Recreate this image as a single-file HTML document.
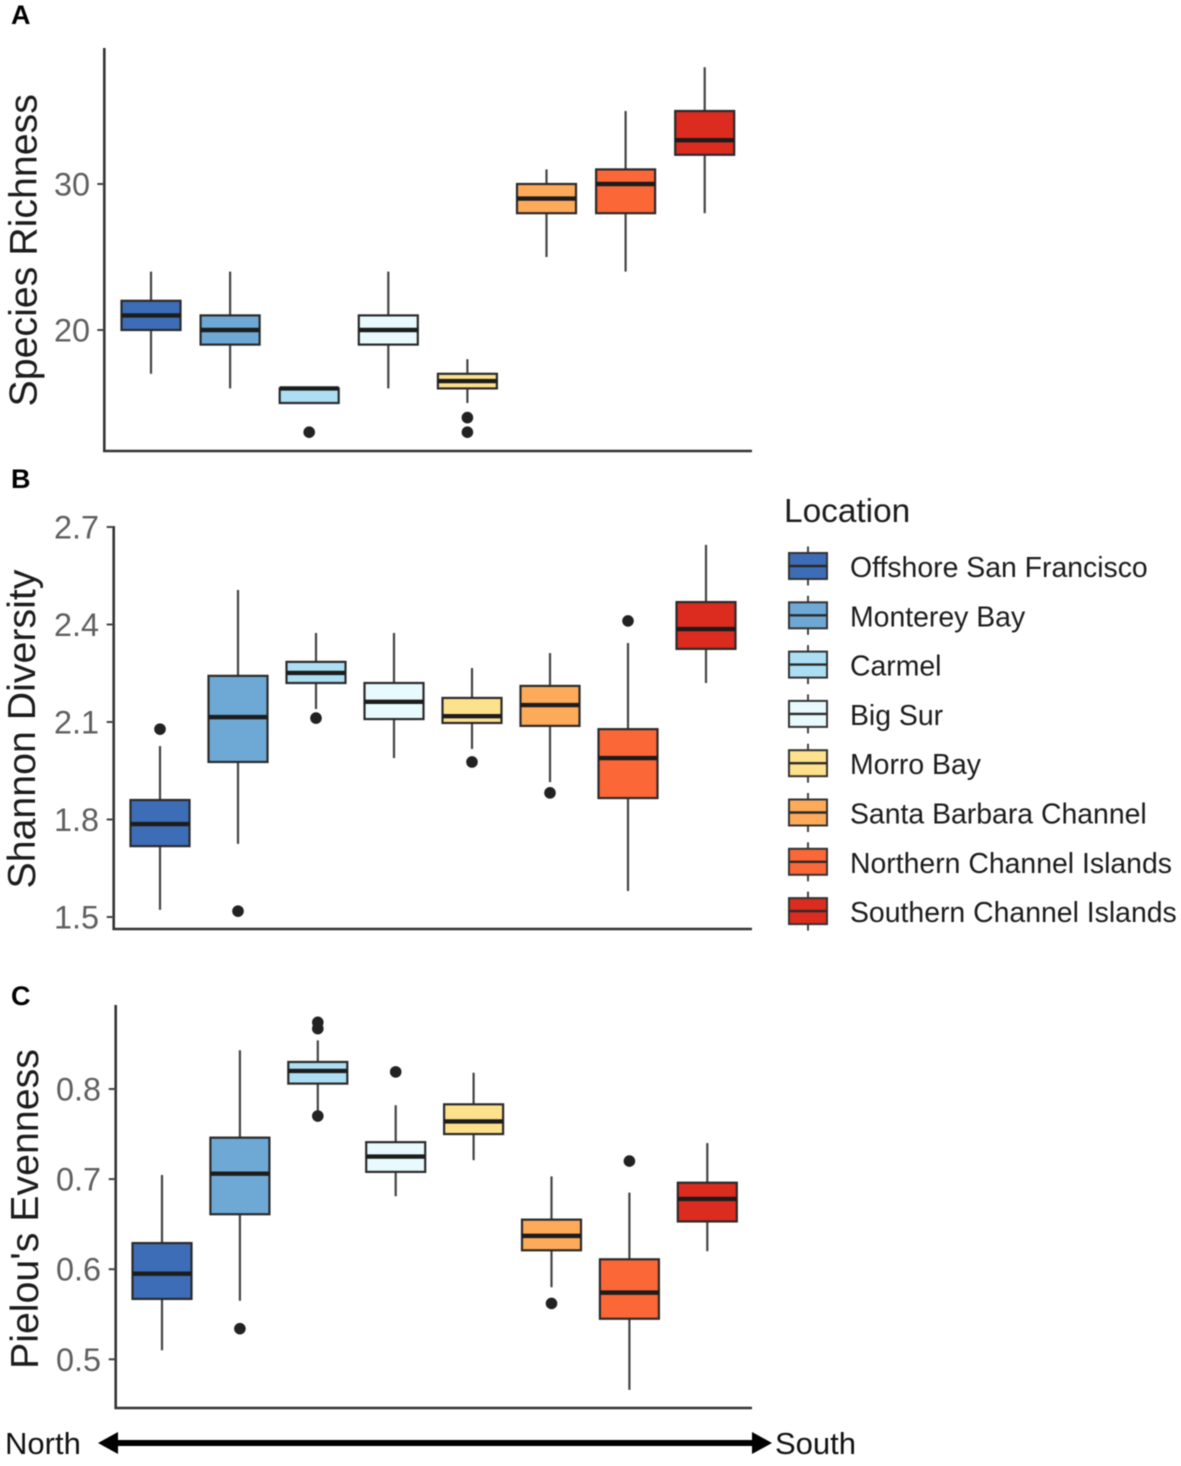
<!DOCTYPE html>
<html lang="en">
<head>
<meta charset="utf-8">
<title>Species richness, Shannon diversity and Pielou's evenness by location</title>
<style>
  html, body { margin: 0; padding: 0; background: #fff; }
  body { width: 1181px; height: 1466px; overflow: hidden; }
  svg { display: block; filter: blur(0.45px); font-family: "Liberation Sans", sans-serif; }
  .title { font-size: 39.3px; fill: #1c1c1c; }
  .tick-label { font-size: 32.4px; fill: #5f5f5f; }
  .panel-tag { font-size: 27px; font-weight: bold; fill: #000; }
  .legend-title { font-size: 33.4px; fill: #1c1c1c; }
  .legend-label { font-size: 28.4px; fill: #1c1c1c; }
  .direction { font-size: 31px; fill: #111; }
  .axis { stroke: #333; stroke-width: 2.6; fill: none; }
</style>
</head>
<body>
<svg id="figure" width="1181" height="1466" viewBox="0 0 1181 1466" xmlns="http://www.w3.org/2000/svg">
  <text class="panel-tag" x="11" y="24">A</text>
  <text class="panel-tag" x="11" y="488">B</text>
  <text class="panel-tag" x="11" y="1005">C</text>

  <path class="axis" d="M104.3 48 V451 H752"/>
  <path class="axis" d="M113.7 526 V929 H752"/>
  <path class="axis" d="M115.7 1005 V1408 H752"/>

  <text class="title" transform="translate(36.5,406.5) rotate(-90)">Species Richness</text>
  <text class="title" transform="translate(35,888.5) rotate(-90)">Shannon Diversity</text>
  <text class="title" transform="translate(38,1369) rotate(-90)">Pielou's Evenness</text>

  <text class="legend-title" x="784" y="522">Location</text>

  <text class="direction" x="5" y="1454">North</text>
  <text class="direction" x="775" y="1454">South</text>
  <polygon points="98,1443 118,1432 118,1440 752,1440 752,1432 772,1443 752,1454 752,1446 118,1446 118,1454" fill="#000"/>

  <g id="plots"></g>
  <g id="legend"></g>
</svg>

<script>
const locations = ['Offshore San Francisco', 'Monterey Bay', 'Carmel', 'Big Sur', 'Morro Bay', 'Santa Barbara Channel', 'Northern Channel Islands', 'Southern Channel Islands'];
const fillColors = ['#3c6db6', '#6ea9d6', '#addff4', '#e8fafd', '#fee18c', '#fdab5a', '#fb6737', '#dc2b1f'];

const richnessTicks = [20, 30];
const richnessTickLabels = ['20', '30'];
const richnessLow = [17, 16, 15, 16, 15, 25, 24, 28];
const richnessQ1 = [20, 19, 15, 19, 16, 28, 28, 32];
const richnessMedian = [21, 20, 16, 20, 16.5, 29, 30, 33];
const richnessQ3 = [22, 21, 16, 21, 17, 30, 31, 35];
const richnessHigh = [24, 24, 16, 24, 18, 31, 35, 38];
const richnessOutliers = [[], [], [13], [], [14, 13], [], [], []];

const shannonTicks = [1.5, 1.8, 2.1, 2.4, 2.7];
const shannonTickLabels = ['1.5', '1.8', '2.1', '2.4', '2.7'];
const shannonLow = [1.522, 1.725, 2.14, 1.989, 2.017, 1.915, 1.58, 2.22];
const shannonQ1 = [1.718, 1.977, 2.22, 2.109, 2.097, 2.088, 1.866, 2.325];
const shannonMedian = [1.786, 2.115, 2.251, 2.162, 2.118, 2.152, 1.989, 2.386];
const shannonQ3 = [1.86, 2.242, 2.285, 2.22, 2.174, 2.211, 2.078, 2.469];
const shannonHigh = [2.026, 2.506, 2.374, 2.374, 2.266, 2.312, 2.343, 2.645];
const shannonOutliers = [[2.078], [1.518], [2.112], [], [1.977], [1.882], [2.411], []];

const evennessTicks = [0.5, 0.6, 0.7, 0.8];
const evennessTickLabels = ['0.5', '0.6', '0.7', '0.8'];
const evennessLow = [0.51, 0.565, 0.774, 0.681, 0.721, 0.58, 0.466, 0.62];
const evennessQ1 = [0.567, 0.661, 0.806, 0.708, 0.75, 0.621, 0.545, 0.653];
const evennessMedian = [0.595, 0.706, 0.82, 0.725, 0.764, 0.637, 0.574, 0.678];
const evennessQ3 = [0.629, 0.746, 0.83, 0.741, 0.783, 0.655, 0.611, 0.696];
const evennessHigh = [0.7045, 0.843, 0.854, 0.782, 0.818, 0.703, 0.685, 0.74];
const evennessOutliers = [[], [0.534], [0.77, 0.874, 0.867], [0.819], [], [0.562], [0.72], []];

const SVG_NS = 'http://www.w3.org/2000/svg';

function make(parent, tag, attrs) {
  const el = document.createElementNS(SVG_NS, tag);
  for (const key in attrs) el.setAttribute(key, attrs[key]);
  parent.appendChild(el);
  return el;
}

function linearAxis(v0, px0, v1, px1) {
  return function (v) { return px0 + (v - v0) * (px1 - px0) / (v1 - v0); };
}

function slug(text) {
  return text.toLowerCase().replace(/[^a-z]+/g, '-');
}

function drawPanel(root, name, cfg) {
  const panel = make(root, 'g', {});
  
  

  cfg.ticks.forEach(function (t, i) {
    const tick = make(panel, 'line', { x1: cfg.axisX - 7, x2: cfg.axisX, y1: cfg.y(t), y2: cfg.y(t), stroke: '#444', 'stroke-width': 2 });
    
    
    const label = make(panel, 'text', { class: 'tick-label', x: cfg.labelX, y: cfg.y(t) + 11.5, 'text-anchor': 'end' });
    label.textContent = cfg.tickLabels[i];
    
    
  });

  locations.forEach(function (loc, i) {
    const cx = cfg.x(i);
    const group = make(panel, 'g', {});
    
    

    const upper = make(group, 'line', { x1: cx, x2: cx, y1: cfg.y(cfg.high[i]), y2: cfg.y(cfg.q3[i]), stroke: '#444', 'stroke-width': 2.2 });
    
    
    const lower = make(group, 'line', { x1: cx, x2: cx, y1: cfg.y(cfg.q1[i]), y2: cfg.y(cfg.low[i]), stroke: '#444', 'stroke-width': 2.2 });
    
    

    const top = cfg.y(cfg.q3[i]);
    const box = make(group, 'rect', { x: cx - 29.5, y: top, width: 59, height: cfg.y(cfg.q1[i]) - top, fill: fillColors[i], stroke: '#2a2a2a', 'stroke-width': 2.2 });
    
    

    const med = make(group, 'line', { x1: cx - 29.5, x2: cx + 29.5, y1: cfg.y(cfg.median[i]), y2: cfg.y(cfg.median[i]), stroke: '#1c1c1c', 'stroke-width': 4.4 });
    
    

    cfg.outliers[i].forEach(function (v) {
      const dot = make(group, 'circle', { cx: cx, cy: cfg.y(v), r: 5.8, fill: '#222' });
      
      
    });
  });
}

const plots = document.getElementById('plots');

drawPanel(plots, 'richness', {
  axisX: 104.3, labelX: 90,
  x: function (i) { return 151 + 79.1 * i; },
  y: linearAxis(20, 330, 30, 184),
  ticks: richnessTicks, tickLabels: richnessTickLabels,
  low: richnessLow, q1: richnessQ1, median: richnessMedian, q3: richnessQ3, high: richnessHigh, outliers: richnessOutliers
});

drawPanel(plots, 'shannon', {
  axisX: 113.7, labelX: 99,
  x: function (i) { return 160 + 78 * i; },
  y: linearAxis(1.5, 917, 2.7, 527),
  ticks: shannonTicks, tickLabels: shannonTickLabels,
  low: shannonLow, q1: shannonQ1, median: shannonMedian, q3: shannonQ3, high: shannonHigh, outliers: shannonOutliers
});

drawPanel(plots, 'evenness', {
  axisX: 115.7, labelX: 101,
  x: function (i) { return 162 + 77.9 * i; },
  y: linearAxis(0.5, 1359.3, 0.8, 1089),
  ticks: evennessTicks, tickLabels: evennessTickLabels,
  low: evennessLow, q1: evennessQ1, median: evennessMedian, q3: evennessQ3, high: evennessHigh, outliers: evennessOutliers
});

const legend = document.getElementById('legend');
locations.forEach(function (loc, i) {
  const cy = 566 + 49.3 * i;
  const entry = make(legend, 'g', {});
  
  

  const whisker = make(entry, 'line', { x1: 808, x2: 808, y1: cy - 19.5, y2: cy + 19.5, stroke: '#444', 'stroke-width': 2 });
  
  
  const key = make(entry, 'rect', { x: 789, y: cy - 13, width: 38, height: 26, fill: fillColors[i], stroke: '#333', 'stroke-width': 2 });
  
  
  const mid = make(entry, 'line', { x1: 789, x2: 827, y1: cy, y2: cy, stroke: '#2a2a2a', 'stroke-width': 2.4 });
  
  
  const text = make(entry, 'text', { class: 'legend-label', x: 850, y: cy + 11 });
  text.textContent = loc;
  
  
});
</script>
</body>
</html>
